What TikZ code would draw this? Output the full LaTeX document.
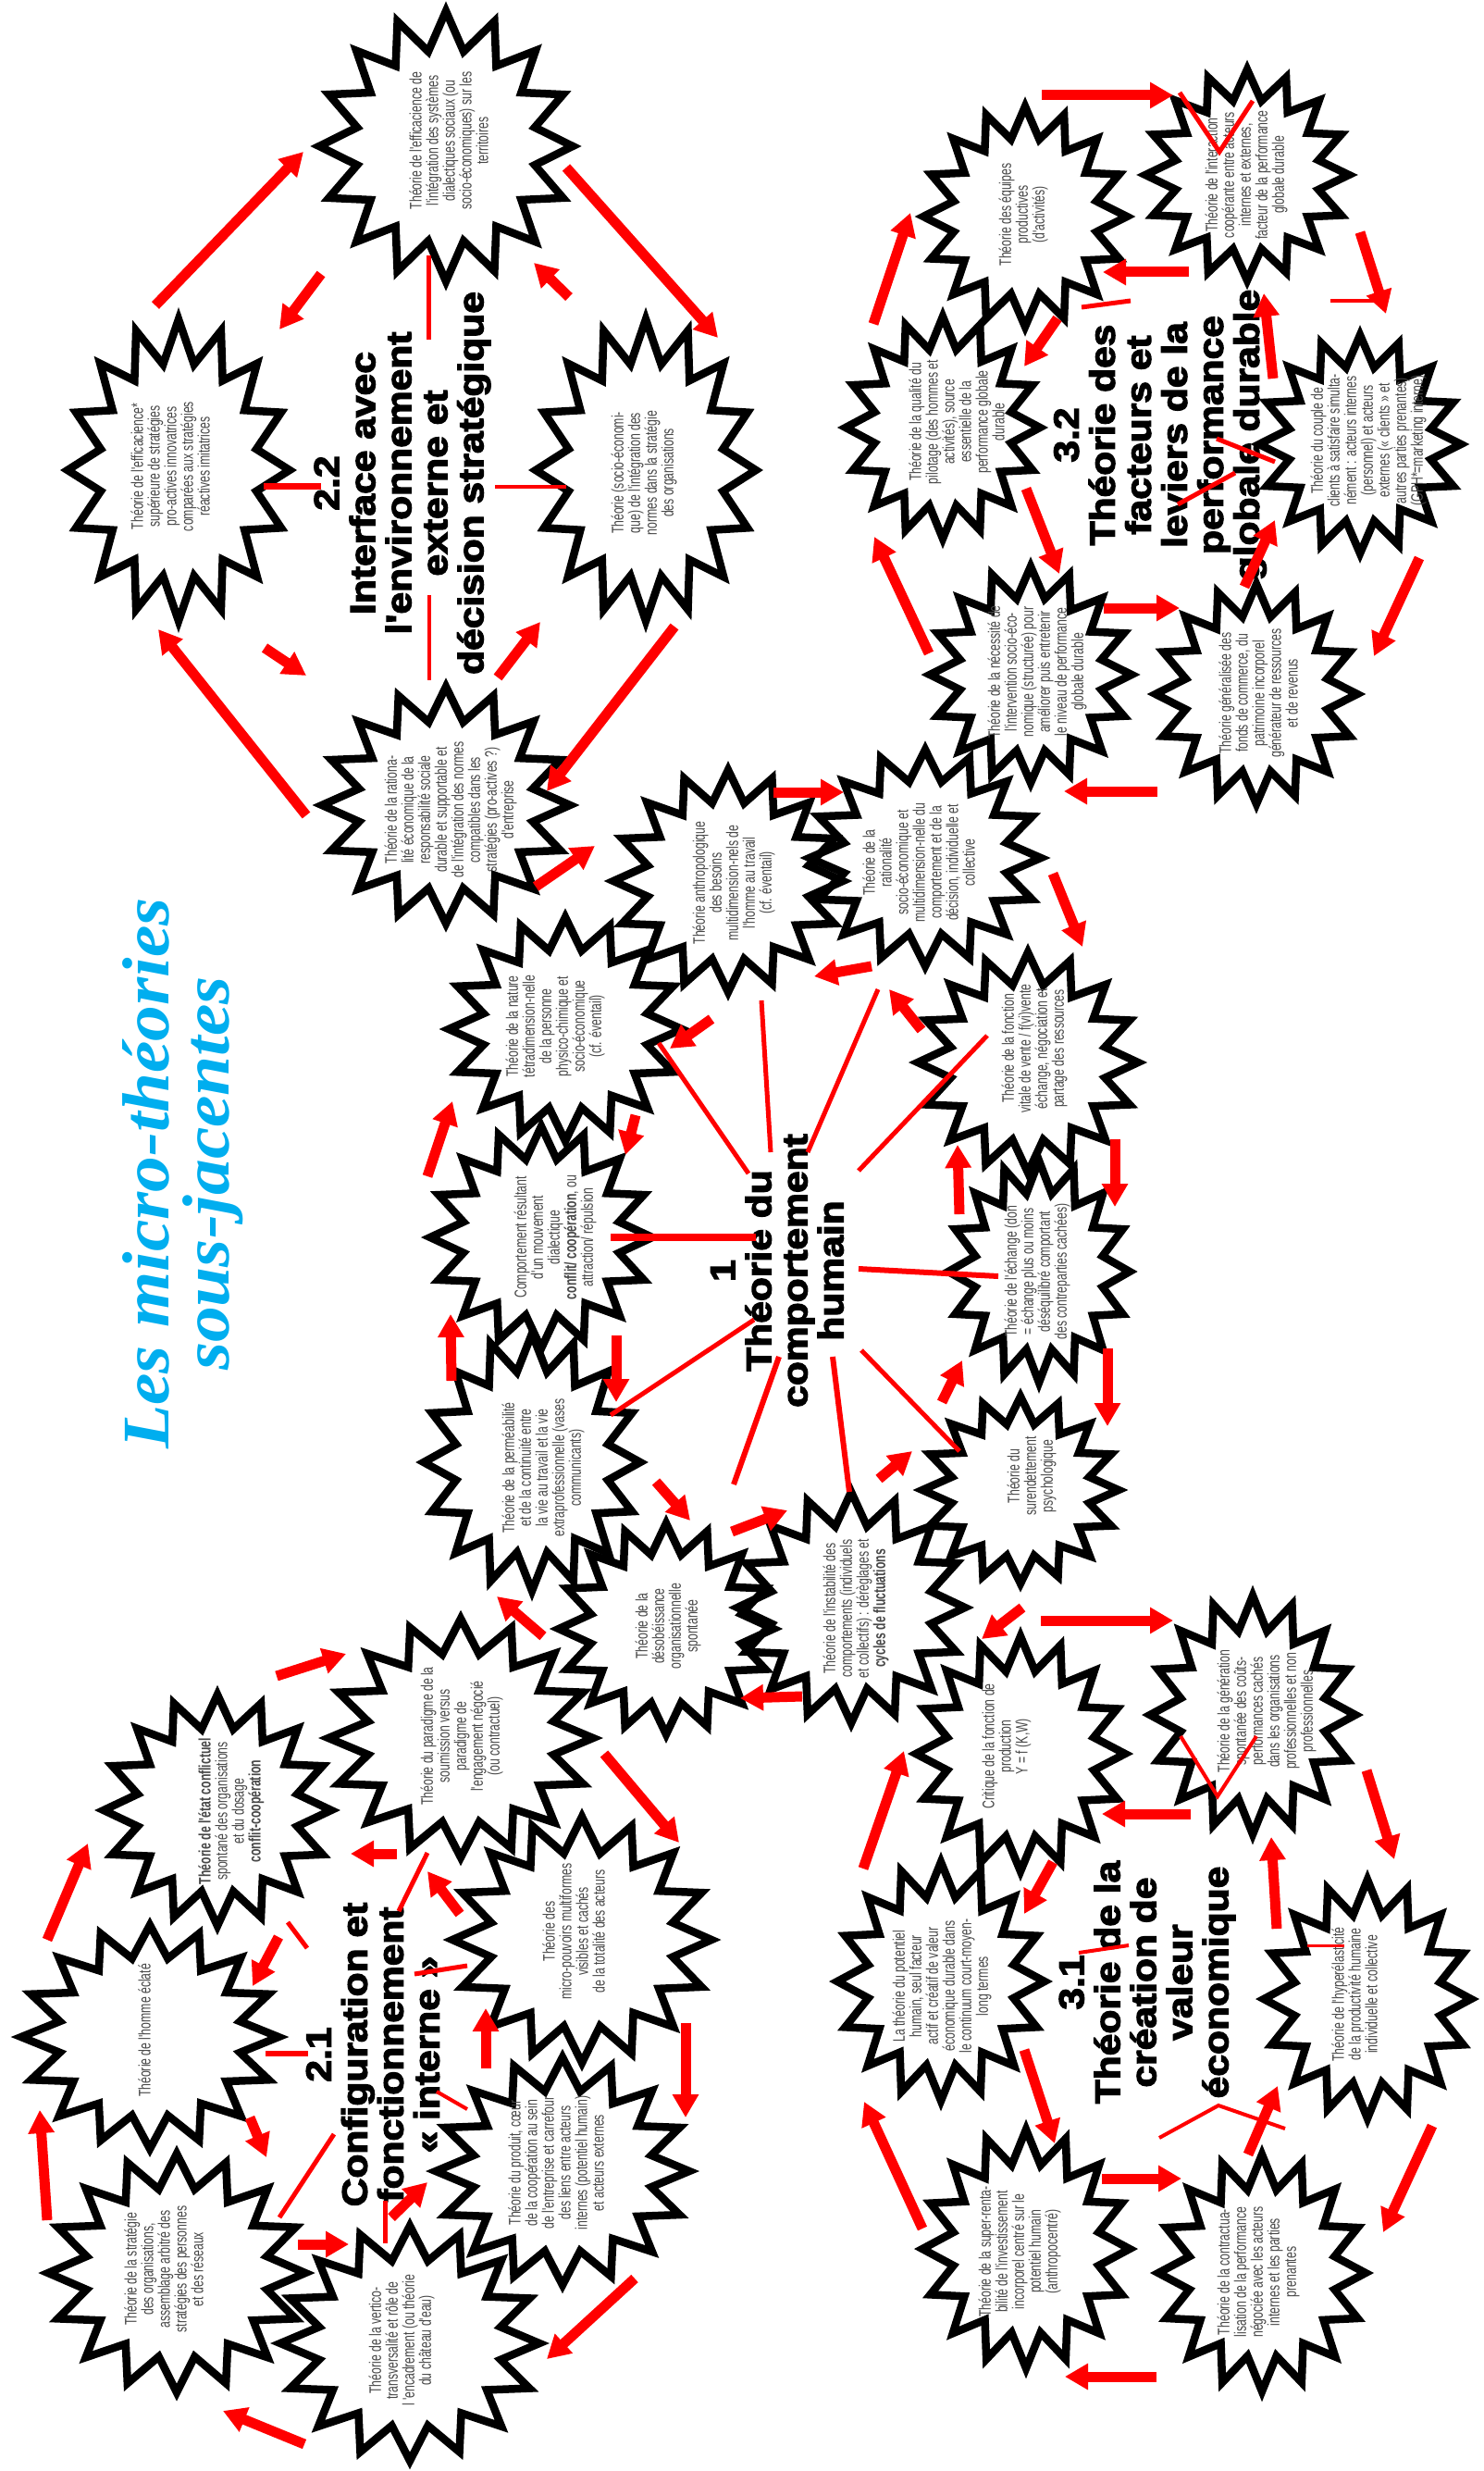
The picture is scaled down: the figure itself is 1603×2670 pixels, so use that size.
\documentclass[tikz,border=0pt]{standalone}
\usepackage{fontspec}
\usepackage{tikz}
\usetikzlibrary{arrows.meta,shapes.geometric}
\newfontfamily\narrowfont[FakeStretch=0.68]{Liberation Sans}
\newfontfamily\rubricfont[FakeBold=3.5,FakeStretch=1.12]{Liberation Sans Bold}
\newfontfamily\bannerfont[FakeStretch=1.075]{Liberation Serif}
\definecolor{bannerblue}{HTML}{00AEEF}
\tikzset{
  burst/.style={draw,star,star points=16,star point ratio=1.4,inner sep=0pt,outer sep=0pt,line width=8.5pt,miter limit=10},
  theory/.style={rotate=90,align=center,inner sep=0pt,text=black!72,font=\narrowfont\fontsize{18}{18}\selectfont},
  rubric/.style={rotate=90,align=center,inner sep=0pt,font=\rubricfont\fontsize{38}{39}\selectfont},
  flow/.style={red,line width=11pt,-{Triangle[length=25pt,width=27pt]}},
  link/.style={red,line width=5pt}
}
\begin{document}
\begin{tikzpicture}[x=1pt,y=-1pt]
  \path[use as bounding box] (0,0) rectangle (1603,2670);
  \node(banner)[rotate=90,align=center,inner sep=0pt,text=bannerblue,font=\bannerfont\bfseries\itshape\fontsize{72}{65}\selectfont] at (198,1268) {Les micro-théories\\sous-jacentes};

  \node(a1)[burst,minimum size=274pt,yscale=1.066] at (482,158) {};
  \node(a2)[burst,minimum size=240pt,yscale=1.358] at (193,508) {};
  \node(a3)[burst,minimum size=238pt,yscale=1.37] at (698,508) {};
  \node(a4)[burst,minimum size=268pt,yscale=.955] at (482,870) {};
  \node(b1)[burst,minimum size=248pt,yscale=.968] at (787,952) {};
  \node(b2)[burst,minimum size=250pt,yscale=.936] at (1000,927) {};
  \node(b3)[burst,minimum size=252pt,yscale=.96] at (611,1112) {};
  \node(b4)[burst,minimum size=238pt] at (1111,1148) {};
  \node(b5)[burst,minimum size=240pt] at (585,1337) {};
  \node(b6)[burst,minimum size=196pt,yscale=1.224] at (1123,1374) {};
  \node(b7)[burst,minimum size=234pt,yscale=1.188] at (575,1580) {};
  \node(b8)[burst,minimum size=212pt,yscale=.953] at (1103,1610) {};
  \node(b9)[burst,minimum size=232pt,yscale=.983] at (720,1760) {};
  \node(b10)[burst,minimum size=246pt,yscale=1.016] at (920,1737) {};
  \node(c1)[burst,minimum size=286pt,yscale=.902] at (498,1878) {};
  \node(c2)[burst,minimum size=246pt,yscale=1.016] at (235,1956) {};
  \node(c3)[burst,minimum size=278pt,yscale=.87] at (162,2201) {};
  \node(c4)[burst,minimum size=280pt,yscale=.95] at (629,2096) {};
  \node(c5)[burst,minimum size=278pt,yscale=.928] at (191,2456) {};
  \node(c6)[burst,minimum size=274pt,yscale=.898] at (608,2346) {};
  \node(c7)[burst,minimum size=280pt,yscale=.907] at (443,2532) {};
  \node(d1)[burst,minimum size=226pt,yscale=1.124] at (1103,1895) {};
  \node(d2)[burst,minimum size=222pt,yscale=1.162] at (1354,1853) {};
  \node(d3)[burst,minimum size=224pt,yscale=1.152] at (1017,2141) {};
  \node(d4)[burst,minimum size=224pt,yscale=1.152] at (1478,2160) {};
  \node(d5)[burst,minimum size=224pt,yscale=1.152] at (1109,2430) {};
  \node(d6)[burst,minimum size=224pt,yscale=1.143] at (1364,2456) {};
  \node(e1)[burst,minimum size=220pt,yscale=1.082] at (1108,234) {};
  \node(e2)[burst,minimum size=220pt,yscale=1.036] at (1348,189) {};
  \node(e3)[burst,minimum size=210pt,yscale=1.143] at (1019,462) {};
  \node(e4)[burst,minimum size=218pt,yscale=1.083] at (1470,480) {};
  \node(e5)[burst,minimum size=218pt,yscale=1.073] at (1114,729) {};
  \node(e6)[burst,minimum size=218pt,yscale=1.09] at (1358,750) {};

  \node(a1t)[theory] at (485,152) {Théorie de l'efficacience de\\l'intégration des systèmes\\dialectiques sociaux (ou\\socio-économiques) sur les\\territoires};
  \node(a2t)[theory] at (184,504) {Théorie de l'efficacience*\\supérieure de stratégies\\pro-actives innovatrices\\comparées aux stratégies\\réactives imitatrices};
  \node(a3t)[theory] at (696,511) {Théorie (socio-économi-\\que) de l'intégration des\\normes dans la stratégie\\des organisations};
  \node(a4t)[theory] at (487,875) {Théorie de la rationa-\\lité économique de la\\responsabilité sociale\\durable et supportable et\\de l'intégration des normes\\compatibles dans les\\stratégies (pro-actives ?)\\d'entreprise};
  \node(b1t)[theory] at (793,954) {Théorie anthropologique\\des besoins\\multidimension-nels de\\l'homme au travail\\(cf. éventail)};
  \node(b2t)[theory] at (993,932) {Théorie de la\\rationalité\\socio-économique et\\multidimension-nelle du\\comportement et de la\\décision, individuelle et\\collective};
  \node(b3t)[theory] at (600,1109) {Théorie de la nature\\tétradimension-nelle\\de la personne\\physico-chimique et\\socio-économique\\(cf. éventail)};
  \node(b4t)[theory] at (1118,1133) {Théorie de la fonction\\vitale de vente / f(vi)vente\\échange, négociation et\\partage des ressources};
  \node(b5t)[theory] at (600,1337) {Comportement résultant\\d'un mouvement\\dialectique\\\textbf{conflit/ coopération}, ou\\attraction/ répulsion};
  \node(b6t)[theory] at (1121,1374) {Théorie de l'échange (don\\= échange plus ou moins\\déséquilibré comportant\\des contreparties cachées)};
  \node(b7t)[theory] at (587,1586) {Théorie de la perméabilité\\et de la continuité entre\\la vie au travail et la vie\\extraprofessionnelle (vases\\communicants)};
  \node(b8t)[theory] at (1115,1595) {Théorie du\\surendettement\\psychologique};
  \node(b9t)[theory] at (722,1757) {Théorie de la\\désobéissance\\organisationnelle\\spontanée};
  \node(b10t)[theory] at (925,1738) {Théorie de l'instabilité des\\comportements (individuels\\et collectifs) : dérèglages et\\\textbf{cycles de fluctuations}};
  \node(c1t)[theory] at (499,1876) {Théorie du paradigme de la\\soumission versus\\paradigme de\\l'engagement négocié\\(ou contractuel)};
  \node(c2t)[theory] at (250,1957) {\textbf{Théorie de l'état conflictuel}\\spontané des organisations\\et du dosage\\\textbf{conflit-coopération}};
  \node(c3t)[theory] at (156,2194) {Théorie de l'homme éclaté};
  \node(c4t)[theory] at (620,2087) {Théorie des\\micro-pouvoirs multiformes\\visibles et cachés\\de la totalité des acteurs};
  \node(c5t)[theory] at (177,2452) {Théorie de la stratégie\\des organisations,\\assemblage arbitré des\\stratégies des personnes\\et des réseaux};
  \node(c6t)[theory] at (601,2337) {Théorie du produit, cœur\\de la coopération au sein\\de l'entreprise et carrefour\\des liens entre acteurs\\internes (potentiel humain)\\et acteurs externes};
  \node(c7t)[theory] at (434,2529) {Théorie de la vertico-\\transversalité et rôle de\\l 'encadrement (ou théorie\\du château d'eau)};
  \node(d1t)[theory] at (1088,1887) {Critique de la fonction de\\production\\Y = f (K,W)};
  \node(d2t)[theory] at (1369,1849) {Théorie de la génération\\spontanée des coûts-\\performances cachés\\dans les organisations\\professionnelles et non\\professionnelles};
  \node(d3t)[theory] at (1018,2146) {La théorie du potentiel\\humain, seul facteur\\actif et créatif de valeur\\économique durable dans\\le continuum court-moyen-\\long termes};
  \node(d4t)[theory] at (1464,2155) {Théorie de l'hyperélasticité\\de la productivité humaine\\individuelle et collective};
  \node(d5t)[theory] at (1102,2433) {Théorie de la super-renta-\\bilité de l'investissement\\incorporel centré sur le\\potentiel humain\\(anthropocentré)};
  \node(d6t)[theory] at (1360,2455) {Théorie de la contractua-\\lisation de la performance\\négociée avec les acteurs\\internes et les parties\\prenantes};
  \node(e1t)[theory] at (1106,232) {Théorie des équipes\\productives\\(d'activités)};
  \node(e2t)[theory] at (1347,189) {Théorie de l'interaction\\coopérante entre acteurs\\internes et externes,\\facteur de la performance\\globale durable};
  \node(e3t)[theory] at (1034,456) {Théorie de la qualité du\\pilotage (des hommes et\\activités), source\\essentielle de la\\performance globale\\durable};
  \node(e4t)[theory] at (1479,476) {Théorie du couple de\\clients à satisfaire simulta-\\nément : acteurs internes\\(personnel) et acteurs\\externes (« clients » et\\autres parties prenantes)\\(GPH*=marketing interne)};
  \node(e5t)[theory] at (1121,726) {Théorie de la nécessité de\\l'intervention socio-éco-\\nomique (structurée) pour\\améliorer puis entretenir\\le niveau de performance\\globale durable};
  \node(e6t)[theory] at (1360,749) {Théorie généralisée des\\fonds de commerce, du\\patrimoine incorporel\\générateur de ressources\\et de revenus};

  \node(t22)[rubric] at (435,522) {2.2\\Interface avec\\l'environnement\\externe et\\décision stratégique};
  \node(t1)[rubric] at (840,1373) {1\\Théorie du\\comportement\\humain};
  \node(t32)[rubric] at (1254,470) {3.2\\Théorie des\\facteurs et\\leviers de la\\performance\\globale durable};
  \node(t31)[rubric] at (1240,2142) {3.1\\Théorie de la\\création de\\valeur\\économique};
  \node(t21)[rubric] at (403,2220) {2.1\\Configuration et\\fonctionnement\\« interne »};

  \coordinate(f1a) at (168,330); \coordinate(f1b) at (328,164); \draw[flow] (f1a) -- (f1b);
  \coordinate(f2a) at (612,181); \coordinate(f2b) at (776,365); \draw[flow] (f2a) -- (f2b);
  \coordinate(f3a) at (729,677); \coordinate(f3b) at (591,855); \draw[flow] (f3a) -- (f3b);
  \coordinate(f4a) at (331,881); \coordinate(f4b) at (171,680); \draw[flow] (f4a) -- (f4b);
  \coordinate(f5a) at (347,296); \coordinate(f5b) at (302,356); \draw[flow] (f5a) -- (f5b);
  \coordinate(f6a) at (615,321); \coordinate(f6b) at (577,284); \draw[flow] (f6a) -- (f6b);
  \coordinate(f7a) at (286,700); \coordinate(f7b) at (331,730); \draw[flow] (f7a) -- (f7b);
  \coordinate(f8a) at (538,732); \coordinate(f8b) at (584,672); \draw[flow] (f8a) -- (f8b);

  \coordinate(g1a) at (1126,103); \coordinate(g1b) at (1268,103); \draw[flow] (g1a) -- (g1b);
  \coordinate(g2a) at (1285,294); \coordinate(g2b) at (1192,294); \draw[flow] (g2a) -- (g2b);
  \coordinate(g3a) at (1376,409); \coordinate(g3b) at (1366,317); \draw[flow] (g3a) -- (g3b);
  \coordinate(g4a) at (1143,344); \coordinate(g4b) at (1107,396); \draw[flow] (g4a) -- (g4b);
  \coordinate(g5a) at (1345,634); \coordinate(g5b) at (1378,562); \draw[flow] (g5a) -- (g5b);
  \coordinate(g6a) at (1109,528); \coordinate(g6b) at (1145,620); \draw[flow] (g6a) -- (g6b);
  \coordinate(g7a) at (1193,657); \coordinate(g7b) at (1275,657); \draw[flow] (g7a) -- (g7b);
  \coordinate(g8a) at (944,350); \coordinate(g8b) at (984,230); \draw[flow] (g8a) -- (g8b);
  \coordinate(g9a) at (1470,251); \coordinate(g9b) at (1498,339); \draw[flow] (g9a) -- (g9b);
  \coordinate(g10a) at (1534,603); \coordinate(g10b) at (1485,709); \draw[flow] (g10a) -- (g10b);
  \coordinate(g11a) at (1004,706); \coordinate(g11b) at (945,580); \draw[flow] (g11a) -- (g11b);
  \coordinate(g12a) at (1251,855); \coordinate(g12b) at (1150,855); \draw[flow] (g12a) -- (g12b);

  \coordinate(h1a) at (836,856); \coordinate(h1b) at (912,856); \draw[flow] (h1a) -- (h1b);
  \coordinate(h2a) at (579,958); \coordinate(h2b) at (643,914); \draw[flow] (h2a) -- (h2b);
  \coordinate(h3a) at (942,1044); \coordinate(h3b) at (880,1055); \draw[flow] (h3a) -- (h3b);
  \coordinate(h4a) at (769,1101); \coordinate(h4b) at (724,1133); \draw[flow] (h4a) -- (h4b);
  \coordinate(h5a) at (996,1113); \coordinate(h5b) at (961,1069); \draw[flow] (h5a) -- (h5b);
  \coordinate(h6a) at (1138,944); \coordinate(h6b) at (1170,1023); \draw[flow] (h6a) -- (h6b);
  \coordinate(h7a) at (687,1205); \coordinate(h7b) at (676,1248); \draw[flow] (h7a) -- (h7b);
  \coordinate(h8a) at (462,1271); \coordinate(h8b) at (489,1190); \draw[flow] (h8a) -- (h8b);
  \coordinate(h9a) at (1037,1312); \coordinate(h9b) at (1035,1237); \draw[flow] (h9a) -- (h9b);
  \coordinate(h10a) at (1205,1231); \coordinate(h10b) at (1205,1304); \draw[flow] (h10a) -- (h10b);
  \coordinate(h11a) at (666,1443); \coordinate(h11b) at (666,1515); \draw[flow] (h11a) -- (h11b);
  \coordinate(h12a) at (488,1492); \coordinate(h12b) at (487,1420); \draw[flow] (h12a) -- (h12b);
  \coordinate(h13a) at (1018,1515); \coordinate(h13b) at (1040,1470); \draw[flow] (h13a) -- (h13b);
  \coordinate(h14a) at (1197,1457); \coordinate(h14b) at (1197,1541); \draw[flow] (h14a) -- (h14b);
  \coordinate(h15a) at (950,1598); \coordinate(h15b) at (986,1568); \draw[flow] (h15a) -- (h15b);
  \coordinate(h16a) at (709,1601); \coordinate(h16b) at (746,1643); \draw[flow] (h16a) -- (h16b);
  \coordinate(h17a) at (791,1655); \coordinate(h17b) at (851,1632); \draw[flow] (h17a) -- (h17b);

  \coordinate(i1a) at (299,1811); \coordinate(i1b) at (374,1787); \draw[flow] (i1a) -- (i1b);
  \coordinate(i2a) at (587,1768); \coordinate(i2b) at (537,1725); \draw[flow] (i2a) -- (i2b);
  \coordinate(i3a) at (653,1895); \coordinate(i3b) at (734,1991); \draw[flow] (i3a) -- (i3b);
  \coordinate(i4a) at (429,2003); \coordinate(i4b) at (379,2003); \draw[flow] (i4a) -- (i4b);
  \coordinate(i5a) at (497,2068); \coordinate(i5b) at (462,2022); \draw[flow] (i5a) -- (i5b);
  \coordinate(i6a) at (51,2096); \coordinate(i6b) at (95,1992); \draw[flow] (i6a) -- (i6b);
  \coordinate(i7a) at (301,2093); \coordinate(i7b) at (273,2146); \draw[flow] (i7a) -- (i7b);
  \coordinate(i8a) at (270,2288); \coordinate(i8b) at (288,2331); \draw[flow] (i8a) -- (i8b);
  \coordinate(i9a) at (525,2235); \coordinate(i9b) at (525,2170); \draw[flow] (i9a) -- (i9b);
  \coordinate(i10a) at (741,2186); \coordinate(i10b) at (741,2288); \draw[flow] (i10a) -- (i10b);
  \coordinate(i11a) at (51,2399); \coordinate(i11b) at (43,2280); \draw[flow] (i11a) -- (i11b);
  \coordinate(i12a) at (322,2425); \coordinate(i12b) at (377,2425); \draw[flow] (i12a) -- (i12b);
  \coordinate(i13a) at (423,2396); \coordinate(i13b) at (462,2358); \draw[flow] (i13a) -- (i13b);
  \coordinate(i14a) at (686,2462); \coordinate(i14b) at (591,2549); \draw[flow] (i14a) -- (i14b);
  \coordinate(i15a) at (329,2641); \coordinate(i15b) at (241,2605); \draw[flow] (i15a) -- (i15b);

  \coordinate(j1a) at (1105,1737); \coordinate(j1b) at (1061,1771); \draw[flow] (j1a) -- (j1b);
  \coordinate(j2a) at (1125,1751); \coordinate(j2b) at (1268,1751); \draw[flow] (j2a) -- (j2b);
  \coordinate(j3a) at (867,1833); \coordinate(j3b) at (800,1835); \draw[flow] (j3a) -- (j3b);
  \coordinate(j4a) at (1287,1960); \coordinate(j4b) at (1191,1960); \draw[flow] (j4a) -- (j4b);
  \coordinate(j5a) at (933,2019); \coordinate(j5b) at (977,1892); \draw[flow] (j5a) -- (j5b);
  \coordinate(j6a) at (1138,2012); \coordinate(j6b) at (1107,2068); \draw[flow] (j6a) -- (j6b);
  \coordinate(j7a) at (1380,2084); \coordinate(j7b) at (1374,1985); \draw[flow] (j7a) -- (j7b);
  \coordinate(j8a) at (1477,1913); \coordinate(j8b) at (1507,2009); \draw[flow] (j8a) -- (j8b);
  \coordinate(j9a) at (1107,2215); \coordinate(j9b) at (1140,2316); \draw[flow] (j9a) -- (j9b);
  \coordinate(j10a) at (1191,2354); \coordinate(j10b) at (1277,2354); \draw[flow] (j10a) -- (j10b);
  \coordinate(j11a) at (1349,2328); \coordinate(j11b) at (1381,2254); \draw[flow] (j11a) -- (j11b);
  \coordinate(j12a) at (1548,2297); \coordinate(j12b) at (1495,2412); \draw[flow] (j12a) -- (j12b);
  \coordinate(j13a) at (997,2408); \coordinate(j13b) at (934,2271); \draw[flow] (j13a) -- (j13b);
  \coordinate(j14a) at (1250,2568); \coordinate(j14b) at (1151,2568); \draw[flow] (j14a) -- (j14b);

  \coordinate(l1a) at (463,276); \coordinate(l1b) at (463,367); \draw[link] (l1a) -- (l1b);
  \coordinate(l2a) at (285,525); \coordinate(l2b) at (347,525); \draw[link,line width=7pt] (l2a) -- (l2b);
  \coordinate(l3a) at (535,526); \coordinate(l3b) at (612,526); \draw[link,line width=4pt] (l3a) -- (l3b);
  \coordinate(l4a) at (464,643); \coordinate(l4b) at (464,735); \draw[link,line width=4pt] (l4a) -- (l4b);

  \coordinate(m1a) at (1275,100); \coordinate(m1b) at (1318,164); \coordinate(m1c) at (1354,109); \draw[link] (m1a) -- (m1b) -- (m1c);
  \coordinate(m2a) at (1169,332); \coordinate(m2b) at (1222,325); \draw[link] (m2a) -- (m2b);
  \coordinate(m3a) at (1438,325); \coordinate(m3b) at (1496,325); \draw[link,line width=4pt] (m3a) -- (m3b);
  \coordinate(m4a) at (1315,474); \coordinate(m4b) at (1378,499); \draw[link] (m4a) -- (m4b);
  \coordinate(m5a) at (1273,545); \coordinate(m5b) at (1335,511); \draw[link] (m5a) -- (m5b);

  \coordinate(r1a) at (823,1081); \coordinate(r1b) at (833,1245); \draw[link] (r1a) -- (r1b);
  \coordinate(r2a) at (949,1069); \coordinate(r2b) at (873,1245); \draw[link] (r2a) -- (r2b);
  \coordinate(r3a) at (712,1127); \coordinate(r3b) at (809,1268); \draw[link] (r3a) -- (r3b);
  \coordinate(r4a) at (1067,1119); \coordinate(r4b) at (928,1265); \draw[link] (r4a) -- (r4b);
  \coordinate(r5a) at (660,1337); \coordinate(r5b) at (817,1337); \draw[link,line width=8pt] (r5a) -- (r5b);
  \coordinate(r6a) at (928,1371); \coordinate(r6b) at (1079,1379); \draw[link,line width=6pt] (r6a) -- (r6b);
  \coordinate(r7a) at (815,1426); \coordinate(r7b) at (660,1529); \draw[link] (r7a) -- (r7b);
  \coordinate(r8a) at (931,1459); \coordinate(r8b) at (1037,1568); \draw[link] (r8a) -- (r8b);
  \coordinate(r9a) at (842,1466); \coordinate(r9b) at (793,1604); \draw[link,line width=6pt] (r9a) -- (r9b);
  \coordinate(r10a) at (900,1466); \coordinate(r10b) at (918,1612); \draw[link,line width=6pt] (r10a) -- (r10b);

  \coordinate(s1a) at (462,2002); \coordinate(s1b) at (431,2065); \draw[link] (s1a) -- (s1b);
  \coordinate(s2a) at (311,2077); \coordinate(s2b) at (332,2105); \draw[link] (s2a) -- (s2b);
  \coordinate(s3a) at (287,2219); \coordinate(s3b) at (333,2219); \draw[link,line width=6pt] (s3a) -- (s3b);
  \coordinate(s4a) at (448,2133); \coordinate(s4b) at (505,2124); \draw[link] (s4a) -- (s4b);
  \coordinate(s5a) at (472,2260); \coordinate(s5b) at (505,2279); \draw[link,line width=4pt] (s5a) -- (s5b);
  \coordinate(s6a) at (361,2306); \coordinate(s6b) at (302,2396); \draw[link] (s6a) -- (s6b);
  \coordinate(s7a) at (416,2378); \coordinate(s7b) at (416,2424); \draw[link] (s7a) -- (s7b);

  \coordinate(u1a) at (1276,1876); \coordinate(u1b) at (1316,1941); \coordinate(u1c) at (1358,1876); \draw[link,line width=4pt] (u1a) -- (u1b) -- (u1c);
  \coordinate(u2a) at (1413,2102); \coordinate(u2b) at (1453,2102); \draw[link,line width=3pt] (u2a) -- (u2b);
  \coordinate(u3a) at (1166,2110); \coordinate(u3b) at (1220,2102); \draw[link,line width=4pt] (u3a) -- (u3b);
  \coordinate(u4a) at (1253,2310); \coordinate(u4b) at (1317,2275); \coordinate(u4c) at (1389,2300); \draw[link,line width=4pt] (u4a) -- (u4b) -- (u4c);
\end{tikzpicture}
\end{document}
